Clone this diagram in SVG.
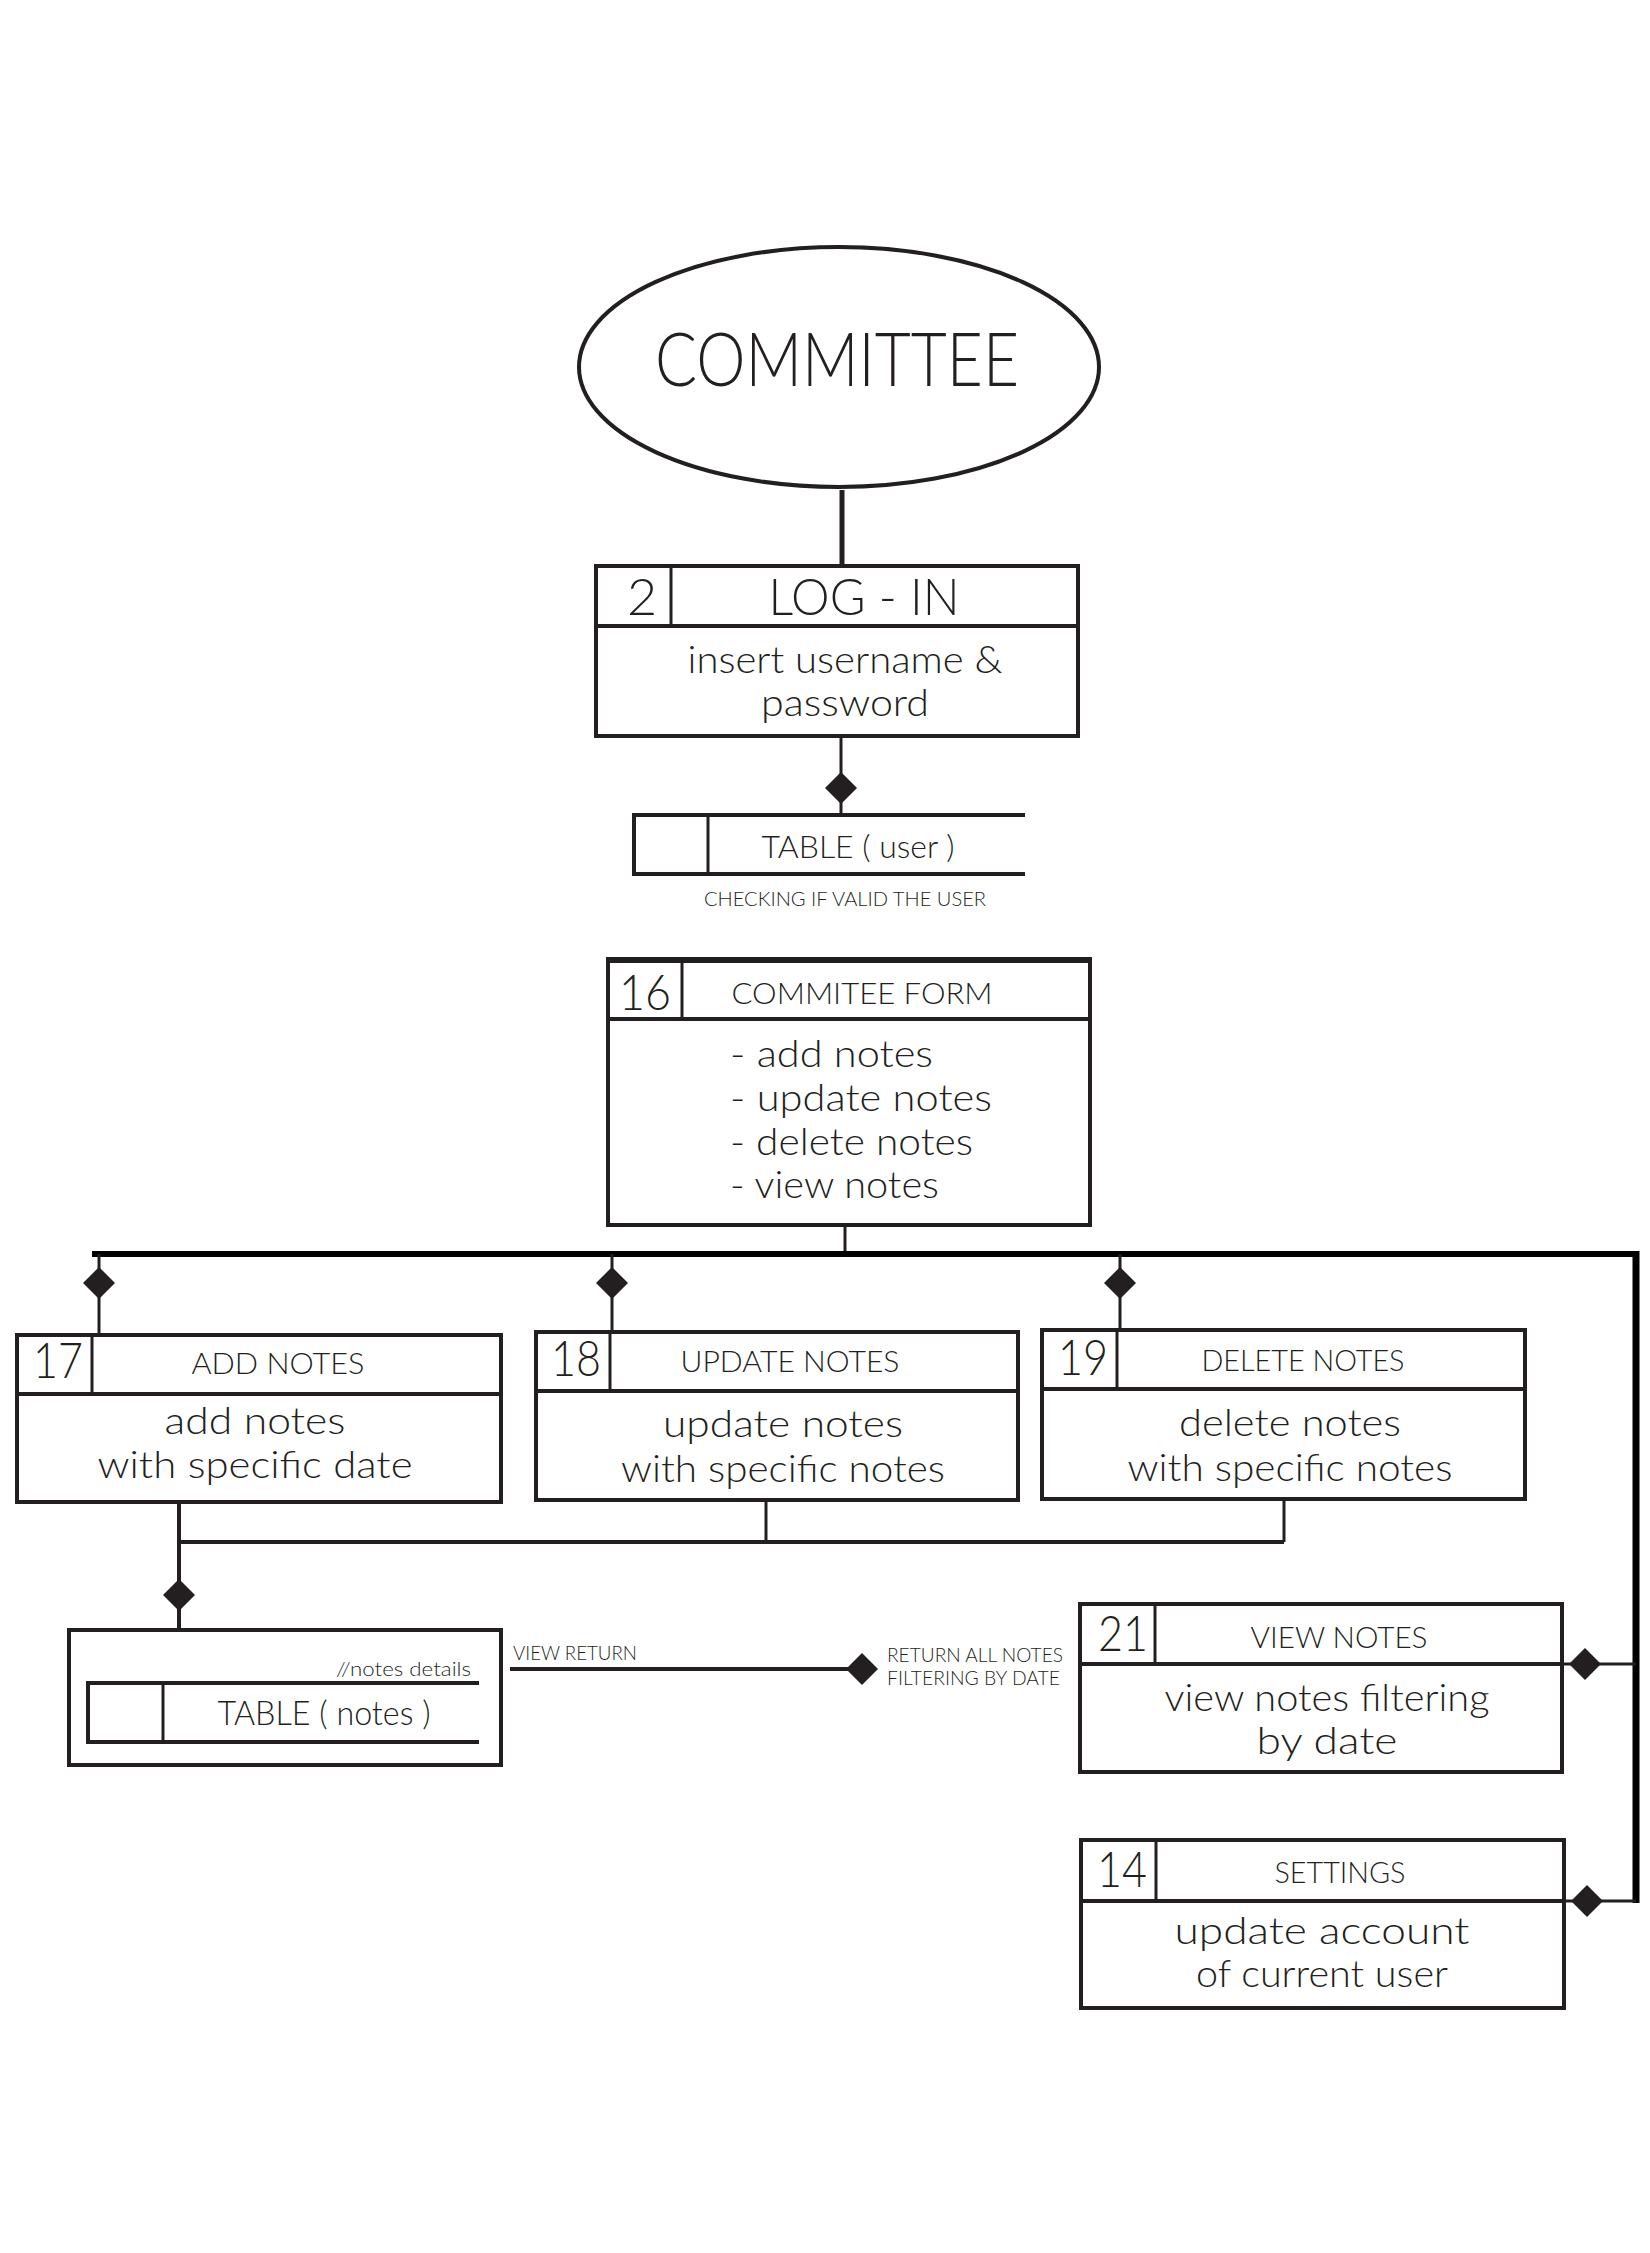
<svg xmlns="http://www.w3.org/2000/svg" width="1650" height="2253" viewBox="0 0 1650 2253">
<style>
.b{fill:none;stroke:#231f20;stroke-width:4}
.d{fill:none;stroke:#231f20;stroke-width:3}
.c{fill:none;stroke:#231f20;stroke-width:3}
.bus{fill:none;stroke:#000;stroke-width:6}
.dia{fill:#231f20;stroke:none}
text{font-family:Lato,"Liberation Sans",sans-serif;font-weight:300;fill:#231f20}
.m{text-anchor:middle}
.num{font-size:50px}
.hd{font-size:30px}
.bd{font-size:37px}
.sm{font-size:19px}
</style>
<defs>
<path id="dm" d="M0,-16 L16,0 L0,16 L-16,0 Z"/>
</defs>
<rect width="1650" height="2253" fill="#fff"/>

<g id="connectors">
<line class="c" x1="842" y1="490" x2="842" y2="566" style="stroke-width:5"/>
<line class="c" x1="841" y1="736" x2="841" y2="815"/>
<use href="#dm" class="dia" x="841" y="788"/>
<line class="c" x1="845" y1="1225" x2="845" y2="1254"/>
<line class="bus" x1="92" y1="1254" x2="1636" y2="1254"/>
<line class="bus" x1="1636" y1="1251" x2="1636" y2="1903" style="stroke-width:7"/>
<line class="c" x1="99" y1="1254" x2="99" y2="1335"/>
<use href="#dm" class="dia" x="99" y="1283"/>
<line class="c" x1="612" y1="1254" x2="612" y2="1332"/>
<use href="#dm" class="dia" x="612" y="1283"/>
<line class="c" x1="1120" y1="1254" x2="1120" y2="1330"/>
<use href="#dm" class="dia" x="1120" y="1283"/>
<line class="c" x1="179" y1="1502" x2="179" y2="1630" style="stroke-width:4"/>
<use href="#dm" class="dia" x="179" y="1595"/>
<line class="c" x1="179" y1="1542" x2="1284" y2="1542" style="stroke-width:4"/>
<line class="c" x1="766" y1="1500" x2="766" y2="1542"/>
<line class="c" x1="1284" y1="1499" x2="1284" y2="1542"/>
<line class="c" x1="510" y1="1669" x2="862" y2="1669" style="stroke-width:4"/>
<use href="#dm" class="dia" x="862" y="1669"/>
<line class="c" x1="1562" y1="1664" x2="1636" y2="1664"/>
<use href="#dm" class="dia" x="1585" y="1664"/>
<line class="c" x1="1564" y1="1901" x2="1636" y2="1901"/>
<use href="#dm" class="dia" x="1587" y="1901"/>
</g>

<g id="committee">
<ellipse class="b" cx="839" cy="367" rx="260" ry="120"/>
<text class="m" x="837" y="386" font-size="74" textLength="364" lengthAdjust="spacingAndGlyphs">COMMITTEE</text>
</g>

<g id="login">
<rect class="b" x="596" y="566" width="482" height="170"/>
<line class="b" x1="596" y1="626" x2="1078" y2="626"/>
<line class="d" x1="671" y1="566" x2="671" y2="626"/>
<text class="m" x="642" y="615" font-size="52">2</text>
<text class="m" x="864" y="615" font-size="52" textLength="191" lengthAdjust="spacingAndGlyphs">LOG - IN</text>
<text class="m bd" x="845" y="673" textLength="315" lengthAdjust="spacingAndGlyphs">insert username &amp;</text>
<text class="m bd" x="845" y="716" textLength="168" lengthAdjust="spacingAndGlyphs">password</text>
</g>

<g id="table-user">
<line class="b" x1="634" y1="815" x2="1025" y2="815"/>
<line class="b" x1="634" y1="874" x2="1025" y2="874"/>
<line class="b" x1="634" y1="813" x2="634" y2="876"/>
<line class="d" x1="708" y1="815" x2="708" y2="874"/>
<text class="m" x="858" y="858" font-size="32" textLength="193" lengthAdjust="spacingAndGlyphs">TABLE ( user )</text>
<text class="m sm" x="845" y="906" textLength="282" lengthAdjust="spacingAndGlyphs">CHECKING IF VALID THE USER</text>
</g>

<g id="commitee-form">
<rect class="b" x="608" y="960" width="482" height="265"/>
<line class="b" x1="606" y1="960" x2="1092" y2="960" style="stroke-width:6"/>
<line class="b" x1="608" y1="1019" x2="1090" y2="1019"/>
<line class="d" x1="682" y1="960" x2="682" y2="1019"/>
<text class="m num" x="645" y="1010" textLength="52" lengthAdjust="spacingAndGlyphs">16</text>
<text class="m hd" x="862" y="1004" textLength="261" lengthAdjust="spacingAndGlyphs">COMMITEE FORM</text>
<text class="bd" x="730" y="1067" textLength="203" lengthAdjust="spacingAndGlyphs">- add notes</text>
<text class="bd" x="730" y="1111" textLength="262" lengthAdjust="spacingAndGlyphs">- update notes</text>
<text class="bd" x="730" y="1155" textLength="243" lengthAdjust="spacingAndGlyphs">- delete notes</text>
<text class="bd" x="730" y="1198" textLength="209" lengthAdjust="spacingAndGlyphs">- view notes</text>
</g>

<g id="add-notes">
<rect class="b" x="17" y="1335" width="484" height="167"/>
<line class="b" x1="17" y1="1394" x2="501" y2="1394"/>
<line class="d" x1="92" y1="1335" x2="92" y2="1394"/>
<text class="m num" x="58" y="1378" textLength="50" lengthAdjust="spacingAndGlyphs">17</text>
<text class="m hd" x="278" y="1374" textLength="173" lengthAdjust="spacingAndGlyphs">ADD NOTES</text>
<text class="m bd" x="255" y="1434" textLength="181" lengthAdjust="spacingAndGlyphs">add notes</text>
<text class="m bd" x="255" y="1478" textLength="315" lengthAdjust="spacingAndGlyphs">with specific date</text>
</g>

<g id="update-notes">
<rect class="b" x="536" y="1332" width="482" height="168"/>
<line class="b" x1="536" y1="1391" x2="1018" y2="1391"/>
<line class="d" x1="610" y1="1332" x2="610" y2="1391"/>
<text class="m num" x="576" y="1376" textLength="50" lengthAdjust="spacingAndGlyphs">18</text>
<text class="m hd" x="790" y="1372" textLength="219" lengthAdjust="spacingAndGlyphs">UPDATE NOTES</text>
<text class="m bd" x="783" y="1437" textLength="240" lengthAdjust="spacingAndGlyphs">update notes</text>
<text class="m bd" x="783" y="1482" textLength="324" lengthAdjust="spacingAndGlyphs">with specific notes</text>
</g>

<g id="delete-notes">
<rect class="b" x="1042" y="1330" width="483" height="169"/>
<line class="b" x1="1042" y1="1389" x2="1525" y2="1389"/>
<line class="d" x1="1117" y1="1330" x2="1117" y2="1389"/>
<text class="m num" x="1083" y="1375" textLength="50" lengthAdjust="spacingAndGlyphs">19</text>
<text class="m hd" x="1303" y="1371" textLength="203" lengthAdjust="spacingAndGlyphs">DELETE NOTES</text>
<text class="m bd" x="1290" y="1436" textLength="222" lengthAdjust="spacingAndGlyphs">delete notes</text>
<text class="m bd" x="1290" y="1481" textLength="325" lengthAdjust="spacingAndGlyphs">with specific notes</text>
</g>

<g id="table-notes">
<rect class="b" x="69" y="1630" width="432" height="135"/>
<line class="b" x1="88" y1="1683" x2="479" y2="1683"/>
<line class="b" x1="88" y1="1742" x2="479" y2="1742"/>
<line class="b" x1="88" y1="1681" x2="88" y2="1744"/>
<line class="d" x1="163" y1="1683" x2="163" y2="1742"/>
<text class="sm" x="471" y="1676" text-anchor="end" textLength="135" lengthAdjust="spacingAndGlyphs">//notes details</text>
<text class="m" x="324" y="1725" font-size="33" textLength="213" lengthAdjust="spacingAndGlyphs">TABLE ( notes )</text>
</g>

<g id="labels">
<text class="sm" x="513" y="1660" textLength="124" lengthAdjust="spacingAndGlyphs">VIEW RETURN</text>
<text class="sm" x="887" y="1662" textLength="176" lengthAdjust="spacingAndGlyphs">RETURN ALL NOTES</text>
<text class="sm" x="887" y="1685" textLength="173" lengthAdjust="spacingAndGlyphs">FILTERING BY DATE</text>
</g>

<g id="view-notes">
<rect class="b" x="1080" y="1604" width="482" height="168"/>
<line class="b" x1="1080" y1="1664" x2="1562" y2="1664"/>
<line class="d" x1="1155" y1="1604" x2="1155" y2="1664"/>
<text class="m num" x="1123" y="1651" textLength="50" lengthAdjust="spacingAndGlyphs">21</text>
<text class="m hd" x="1339" y="1648" textLength="177" lengthAdjust="spacingAndGlyphs">VIEW NOTES</text>
<text class="m bd" x="1327" y="1711" textLength="325" lengthAdjust="spacingAndGlyphs">view notes filtering</text>
<text class="m bd" x="1327" y="1754" textLength="141" lengthAdjust="spacingAndGlyphs">by date</text>
</g>

<g id="settings">
<rect class="b" x="1081" y="1840" width="483" height="168"/>
<line class="b" x1="1081" y1="1901" x2="1564" y2="1901"/>
<line class="d" x1="1156" y1="1840" x2="1156" y2="1901"/>
<text class="m num" x="1122" y="1887" textLength="50" lengthAdjust="spacingAndGlyphs">14</text>
<text class="m hd" x="1340" y="1883" textLength="131" lengthAdjust="spacingAndGlyphs">SETTINGS</text>
<text class="m bd" x="1322" y="1944" textLength="295" lengthAdjust="spacingAndGlyphs">update account</text>
<text class="m bd" x="1322" y="1987" textLength="252" lengthAdjust="spacingAndGlyphs">of current user</text>
</g>
</svg>
